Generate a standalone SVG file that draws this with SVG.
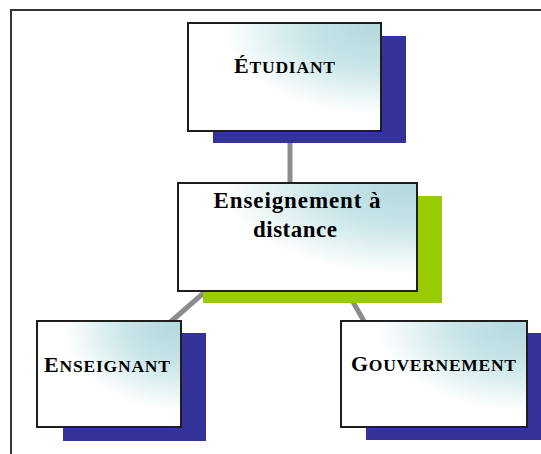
<svg xmlns="http://www.w3.org/2000/svg" width="541" height="454" viewBox="0 0 541 454">
  <defs>
    <radialGradient id="boxfill" cx="1" cy="0.05" r="1" fx="0.95" fy="0.05">
      <stop offset="0" stop-color="#b4d9de"/>
      <stop offset="0.35" stop-color="#c8e5e8"/>
      <stop offset="0.8" stop-color="#ffffff"/>
      <stop offset="1" stop-color="#ffffff"/>
    </radialGradient>
  </defs>
  <style>
    .frame { fill: none; stroke: #333333; stroke-width: 2; }
    .box { fill: url(#boxfill); stroke: #1e1e1e; stroke-width: 2; }
    .blue { fill: #333399; }
    .green { fill: #99cc00; }
    .conn { stroke: #8c8c8c; stroke-width: 5; fill: none; }
    .lbl { font-family: "Liberation Serif", "Times New Roman", serif; font-weight: bold; fill: #000; text-anchor: middle; }
    .cap { font-size: 22px; }
    .sc { font-size: 17.5px; }
    .mid { font-size: 23px; }
  </style>
  <rect width="541" height="454" fill="#ffffff"/>
  <path class="frame" d="M11,455 V10 H542"/>

  <g id="connectors">
    <line class="conn" x1="290" y1="125" x2="290" y2="190"/>
    <line class="conn" x1="215" y1="283" x2="167" y2="325"/>
    <line class="conn" x1="345" y1="288" x2="369" y2="330"/>
  </g>

  <g id="node-etudiant">
    <rect class="blue" x="213" y="36" width="193" height="107"/>
    <rect class="box" x="188" y="23" width="193" height="108"/>
    <text class="lbl" x="284.5" y="73" textLength="101" lengthAdjust="spacing"><tspan class="cap">É</tspan><tspan class="sc">TUDIANT</tspan></text>
  </g>

  <g id="node-enseignement">
    <rect class="green" x="203" y="196" width="239" height="107"/>
    <rect class="box" x="178" y="183" width="239" height="108"/>
    <text class="lbl mid" x="297" y="208" textLength="167" lengthAdjust="spacing">Enseignement à</text>
    <text class="lbl mid" x="295" y="237" textLength="84" lengthAdjust="spacing">distance</text>
  </g>

  <g id="node-enseignant">
    <rect class="blue" x="63" y="333" width="143" height="108"/>
    <rect class="box" x="37" y="321" width="144" height="106"/>
    <text class="lbl" x="107" y="372" textLength="126" lengthAdjust="spacing"><tspan class="cap">E</tspan><tspan class="sc">NSEIGNANT</tspan></text>
  </g>

  <g id="node-gouvernement">
    <rect class="blue" x="366" y="333" width="176" height="107"/>
    <rect class="box" x="341" y="321" width="186" height="106"/>
    <text class="lbl" x="433.5" y="371" textLength="165" lengthAdjust="spacing"><tspan class="cap">G</tspan><tspan class="sc">OUVERNEMENT</tspan></text>
  </g>
</svg>
